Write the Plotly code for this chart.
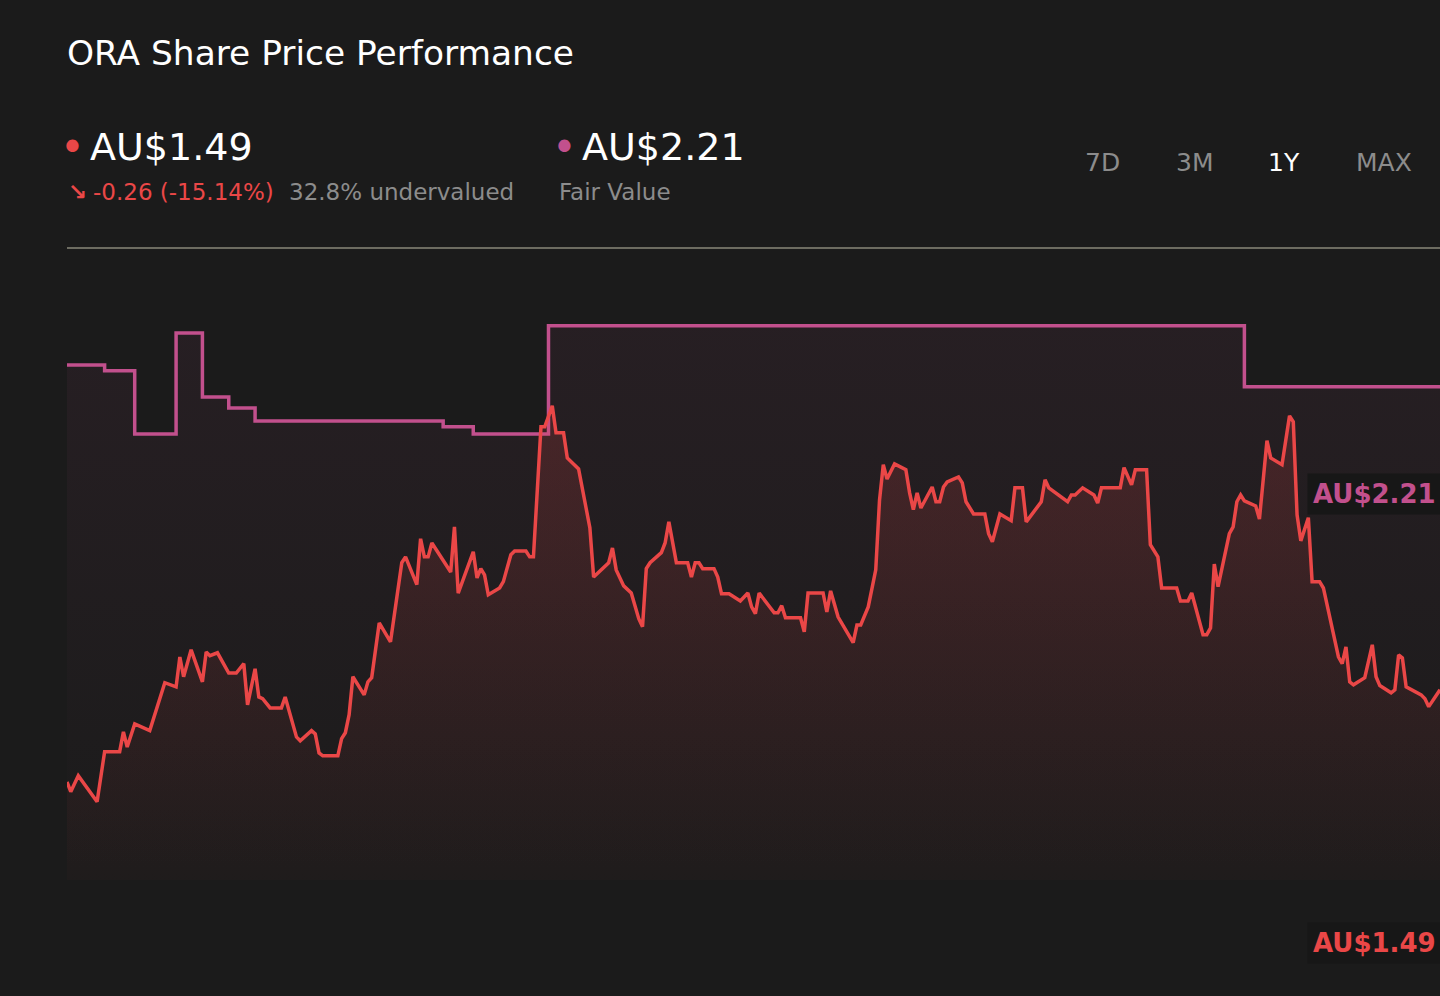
import pandas as pd
import plotly.graph_objects as go

# ORA share price (1Y) vs. fair value estimate
# ---------------------------------------------------------------
START = pd.Timestamp("2024-06-21")

# calendar day offset from START, closing price (AU$)
price_day = [
    0, 1, 3, 8, 10, 14, 15, 16, 18, 22, 26, 29, 30, 31, 33, 36, 37, 38, 40, 43,
    45, 47, 48, 50, 51, 52, 54, 57, 58, 61, 62, 65, 66, 67, 68, 72, 73, 74, 75, 76,
    79, 80, 81, 83, 86, 89, 90, 93, 94, 95, 96, 97, 102, 103, 104, 108, 109, 110, 111, 112,
    115, 116, 118, 119, 122, 123, 124, 126, 127, 129, 130, 132, 133, 136, 139, 140, 144, 145, 146, 148,
    150, 152, 153, 154, 155, 158, 159, 160, 162, 165, 166, 167, 168, 169, 172, 173, 174, 176, 179, 181,
    182, 183, 184, 186, 188, 189, 190, 191, 195, 196, 197, 201, 202, 203, 205, 209, 210, 211, 213, 215,
    216, 217, 218, 220, 223, 224, 225, 226, 227, 230, 231, 232, 233, 234, 237, 238, 239, 241, 244, 245,
    246, 248, 251, 252, 254, 255, 259, 260, 261, 266, 267, 268, 270, 273, 274, 275, 280, 281, 283, 284,
    287, 288, 290, 291, 295, 296, 298, 299, 302, 303, 304, 305, 306, 309, 310, 311, 312, 313, 316, 317,
    319, 320, 323, 325, 326, 327, 328, 330, 331, 333, 334, 338, 339, 340, 341, 342, 345, 347, 348, 349,
    352, 353, 354, 355, 356, 360, 361, 362, 365,
]
price = [
    1.271, 1.248, 1.286, 1.224, 1.343, 1.343, 1.390, 1.354, 1.409, 1.393,
    1.507, 1.497, 1.568, 1.521, 1.585, 1.509, 1.580, 1.571, 1.578, 1.530,
    1.530, 1.552, 1.454, 1.540, 1.473, 1.469, 1.447, 1.447, 1.473, 1.378,
    1.369, 1.393, 1.385, 1.340, 1.333, 1.333, 1.374, 1.388, 1.431, 1.521,
    1.478, 1.509, 1.519, 1.649, 1.604, 1.792, 1.806, 1.740, 1.849, 1.806,
    1.806, 1.839, 1.770, 1.877, 1.720, 1.818, 1.756, 1.778, 1.763, 1.716,
    1.732, 1.747, 1.811, 1.820, 1.820, 1.806, 1.806, 2.115, 2.115, 2.165,
    2.101, 2.101, 2.041, 2.015, 1.875, 1.758, 1.792, 1.827, 1.775, 1.737,
    1.720, 1.659, 1.640, 1.778, 1.792, 1.816, 1.839, 1.889, 1.792, 1.792,
    1.758, 1.792, 1.792, 1.778, 1.778, 1.758, 1.718, 1.718, 1.701, 1.720,
    1.687, 1.671, 1.720, 1.697, 1.673, 1.673, 1.690, 1.661, 1.661, 1.628,
    1.720, 1.720, 1.675, 1.725, 1.663, 1.602, 1.644, 1.644, 1.687, 1.775,
    1.941, 2.025, 1.991, 2.027, 2.013, 1.958, 1.918, 1.958, 1.922, 1.972,
    1.937, 1.937, 1.972, 1.984, 1.996, 1.982, 1.937, 1.908, 1.908, 1.861,
    1.842, 1.908, 1.892, 1.970, 1.970, 1.889, 1.937, 1.989, 1.970, 1.937,
    1.953, 1.953, 1.970, 1.953, 1.934, 1.970, 1.970, 2.018, 1.977, 2.013,
    2.013, 1.835, 1.806, 1.732, 1.732, 1.701, 1.701, 1.720, 1.621, 1.621,
    1.637, 1.789, 1.735, 1.861, 1.877, 1.937, 1.953, 1.939, 1.927, 1.896,
    2.082, 2.041, 2.025, 2.141, 2.127, 1.906, 1.844, 1.899, 1.747, 1.747,
    1.732, 1.568, 1.552, 1.592, 1.509, 1.502, 1.519, 1.597, 1.521, 1.500,
    1.483, 1.490, 1.573, 1.566, 1.497, 1.478, 1.469, 1.450, 1.490,
]

# fair value estimate, held until the next revision
fv_day = [0, 10, 18, 29, 36, 43, 50, 100, 108, 128, 313, 365]
fair_value = [2.262, 2.248, 2.098, 2.338, 2.186, 2.160, 2.129, 2.115, 2.098, 2.355, 2.21, 2.21]

last_price = "AU$1.49"
last_fv = "AU$2.21"
change_text = "-0.26 (-15.14%)"
valuation_text = "32.8% undervalued"
periods = ["7D", "3M", "1Y", "MAX"]
active_period = "1Y"

BG = "#1b1b1b"
RED = "#ea4747"
PINK = "#c2508d"
GREY = "#8c8c8c"
FONT = "DejaVu Sans"

price_dates = START + pd.to_timedelta(price_day, unit="D")
fv_dates = START + pd.to_timedelta(fv_day, unit="D")

fig = go.Figure()

fig.add_trace(go.Scatter(
    x=fv_dates, y=fair_value, mode="lines", name="Fair Value",
    line=dict(color=PINK, width=3.5, shape="hv"),
    fill="tozeroy",
    fillgradient=dict(type="vertical", start=1.04, stop=2.36,
                      colorscale=[[0, "rgba(194,80,141,0.0)"], [1, "rgba(194,80,141,0.07)"]]),
    hoverinfo="skip",
))

fig.add_trace(go.Scatter(
    x=price_dates, y=price, mode="lines", name="Share Price",
    line=dict(color=RED, width=3.5),
    fill="tozeroy",
    fillgradient=dict(type="vertical", start=1.04, stop=2.17,
                      colorscale=[[0, "rgba(234,71,71,0.02)"], [1, "rgba(234,71,71,0.18)"]]),
    hovertemplate="%{x|%d %b %Y}<br>AU$%{y:.2f}<extra></extra>",
))

fig.update_xaxes(range=[START, START + pd.Timedelta(days=365)], visible=False, fixedrange=True)
fig.update_yaxes(range=[1.038, 2.540], visible=False, fixedrange=True)

anns = []


def px(x):
    # page pixel -> paper x
    return (x - 67) / 1373


def txt(x, y, text, size, color, xanchor="left", **kw):
    anns.append(dict(x=x, y=y, xref="paper", yref="paper", text=text, showarrow=False,
                     xanchor=xanchor, yanchor="middle",
                     font=dict(family=FONT, size=size, color=color), **kw))


txt(px(65), 1.3085, "ORA Share Price Performance", 34.4, "#ffffff")

txt(px(72), 1.1598, "•", 42, RED, xanchor="center")
txt(px(88), 1.1598, last_price, 38, "#ffffff")
txt(px(77), 1.0886, "<b>↘</b>", 23, RED, xanchor="center")
txt(px(91), 1.0886, change_text, 23, RED)
txt(px(287), 1.0886, valuation_text, 23, GREY)

txt(px(564), 1.1598, "•", 42, PINK, xanchor="center")
txt(px(580), 1.1598, last_fv, 38, "#ffffff")
txt(px(557), 1.0886, "Fair Value", 23, GREY)

for label, cx in zip(periods, [1102, 1194, 1284, 1384]):
    txt(px(cx), 1.136, label, 25,
        "#ffffff" if label == active_period else GREY, xanchor="center")

txt(px(1307), 0.6108, "<b>%s</b>" % last_fv, 26, PINK, bgcolor="#171717", borderpad=5)
txt(px(1307), -0.0997, "<b>%s</b>" % last_price, 26, RED, bgcolor="#171717", borderpad=5)

fig.update_layout(
    width=1440, height=996,
    paper_bgcolor=BG, plot_bgcolor=BG,
    margin=dict(l=67, r=0, t=248, b=116),
    showlegend=False,
    annotations=anns,
    shapes=[dict(type="line", xref="paper", yref="paper", x0=0, x1=1, y0=1.0, y1=1.0,
                 line=dict(color="#8a887a", width=1.5))],
    hovermode="x",
)

fig.write_html(
    "out.html",
    config={"displayModeBar": False},
    post_script="document.body.style.margin='0';document.body.style.background='%s';" % BG,
)
